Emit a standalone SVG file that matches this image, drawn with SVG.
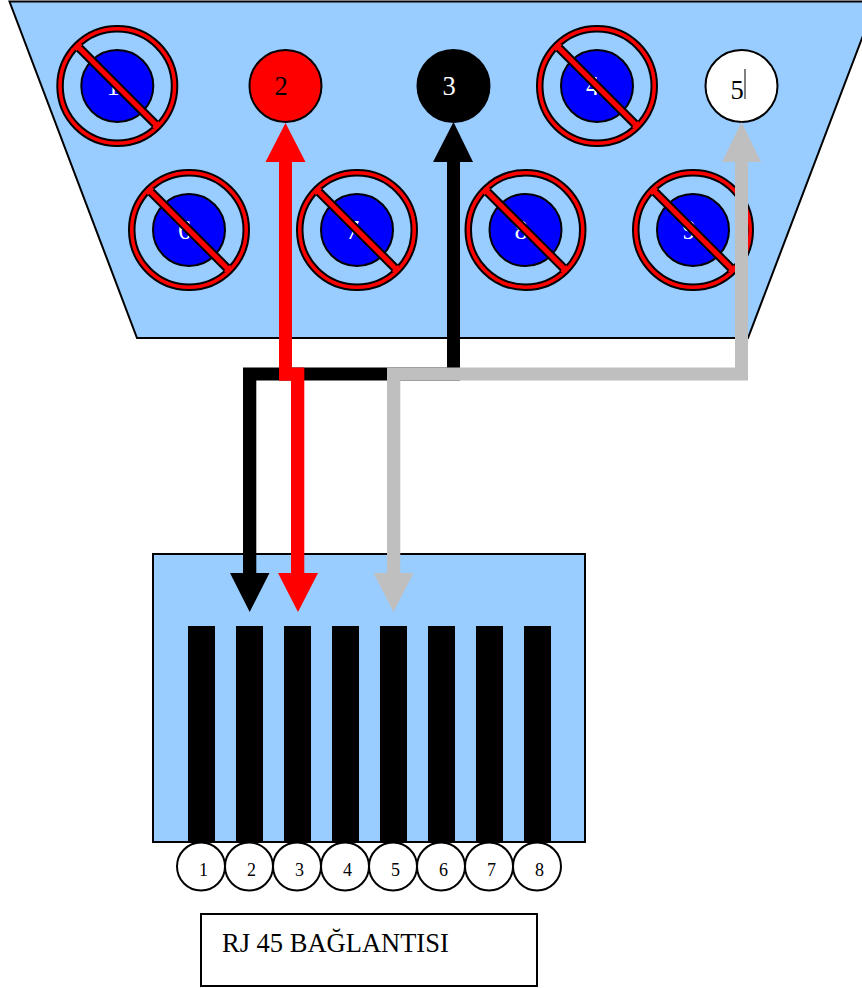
<svg xmlns="http://www.w3.org/2000/svg" width="862" height="988" viewBox="0 0 862 988">
<style>
text{font-family:"Liberation Serif","Times New Roman",serif}
.pin{fill:#000}
.b{fill:#00f;stroke:#000;stroke-width:2}
.ring{fill:#f00;fill-rule:evenodd;stroke:#000;stroke-width:2}
.pt{fill:#fff;font-size:26.500px;text-anchor:middle}
.c{fill:#fff;stroke:#000;stroke-width:2}
.n{font-size:18px;text-anchor:middle;fill:#000}
.panel{fill:#9cf;stroke:#000;stroke-width:2}
</style>
<defs>
<g id="no">
<path class="ring" d="M-60 0A60 60 0 1 0 60 0A60 60 0 1 0 -60 0ZM-54.500 0A54.500 54.500 0 1 1 54.500 0A54.500 54.500 0 1 1 -54.500 0Z"/>
<path class="ring" d="M-41.500-36.500L-36.500-41.500L41.500 36.500L36.500 41.500Z"/>
<path fill="#f00" d="M-41-35L-35-41L-38-44L-44-38ZM41 35L35 41L38 44L44 38Z"/>
</g>
</defs>
<g id="db9-shell"><path class="panel" d="M9.500 1.500H876L748 338H137Z"/></g>
<g id="pin-1"><circle class="b" cx="117.300" cy="86" r="36"/><text class="pt" x="113" y="95">1</text><use href="#no" x="117.300" y="86"/></g>
<g id="pin-2"><circle cx="285.500" cy="86" r="36" fill="#f00" stroke="#000" stroke-width="2"/><text x="281" y="94.500" font-size="26.500" text-anchor="middle">2</text></g>
<g id="pin-3"><circle cx="453.500" cy="86" r="36" fill="#000" stroke="#000" stroke-width="2"/><text class="pt" x="449" y="94.500">3</text></g>
<g id="pin-4"><circle class="b" cx="597" cy="86" r="36"/><text class="pt" x="592.500" y="95">4</text><use href="#no" x="597" y="86"/></g>
<g id="pin-5"><circle class="c" cx="741.500" cy="86" r="36"/><text x="737" y="99.300" font-size="26.500" text-anchor="middle">5</text><path d="M745 69V99" stroke="#000" stroke-width="1"/></g>
<g id="pin-6"><circle class="b" cx="189" cy="230" r="36"/><text class="pt" x="184.500" y="239">6</text><use href="#no" x="189" y="230"/></g>
<g id="pin-7"><circle class="b" cx="357" cy="230" r="36"/><text class="pt" x="352.500" y="239">7</text><use href="#no" x="357" y="230"/></g>
<g id="pin-8"><circle class="b" cx="525.500" cy="230" r="36"/><text class="pt" x="521" y="239">8</text><use href="#no" x="525.500" y="230"/></g>
<g id="pin-9"><circle class="b" cx="693" cy="230" r="36"/><text class="pt" x="689" y="239">9</text><use href="#no" x="693" y="230"/></g>
<g id="rj45-body"><rect class="panel" x="153" y="554" width="432" height="288"/>
<rect class="pin" x="188" y="626" width="27" height="216"/><rect class="pin" x="236" y="626" width="27" height="216"/><rect class="pin" x="284" y="626" width="27" height="216"/><rect class="pin" x="332" y="626" width="27" height="216"/><rect class="pin" x="380" y="626" width="27" height="216"/><rect class="pin" x="428" y="626" width="27" height="216"/><rect class="pin" x="476" y="626" width="27" height="216"/><rect class="pin" x="524" y="626" width="27" height="216"/></g>
<g id="rj-1"><circle class="c" cx="201" cy="866.500" r="24"/><text class="n" x="203.500" y="875.500">1</text></g>
<g id="rj-2"><circle class="c" cx="249" cy="866.500" r="24"/><text class="n" x="251.500" y="875.500">2</text></g>
<g id="rj-3"><circle class="c" cx="297" cy="866.500" r="24"/><text class="n" x="299.500" y="875.500">3</text></g>
<g id="rj-4"><circle class="c" cx="345" cy="866.500" r="24"/><text class="n" x="347.500" y="875.500">4</text></g>
<g id="rj-5"><circle class="c" cx="393" cy="866.500" r="24"/><text class="n" x="395.500" y="875.500">5</text></g>
<g id="rj-6"><circle class="c" cx="441" cy="866.500" r="24"/><text class="n" x="443.500" y="875.500">6</text></g>
<g id="rj-7"><circle class="c" cx="489" cy="866.500" r="24"/><text class="n" x="491.500" y="875.500">7</text></g>
<g id="rj-8"><circle class="c" cx="537" cy="866.500" r="24"/><text class="n" x="539.500" y="875.500">8</text></g>
<g id="label"><rect x="201" y="914" width="336" height="72" fill="#fff" stroke="#000" stroke-width="2"/><text x="222" y="952" font-size="26.500">RJ 45 BAĞLANTISI</text></g>
<g id="connectors">
<path fill="#000" d="M447 367.500V162H433L453.500 122L473 162H460V380.500H256.300V573H269.500L249.700 612L230 573H243V367.500Z"/>
<path fill="#f00" d="M279 380.700V162H265.500L285.500 123L305.500 162H292V367.500H304.300V573H318L298 612L278 573H291V380.700Z"/>
<path fill="#bfbfbf" d="M387 573V367.500H735V162H722L741.500 122L761 162H748V380.500H400.300V573H413.500L393.500 612L373.500 573Z"/>
</g>
</svg>
